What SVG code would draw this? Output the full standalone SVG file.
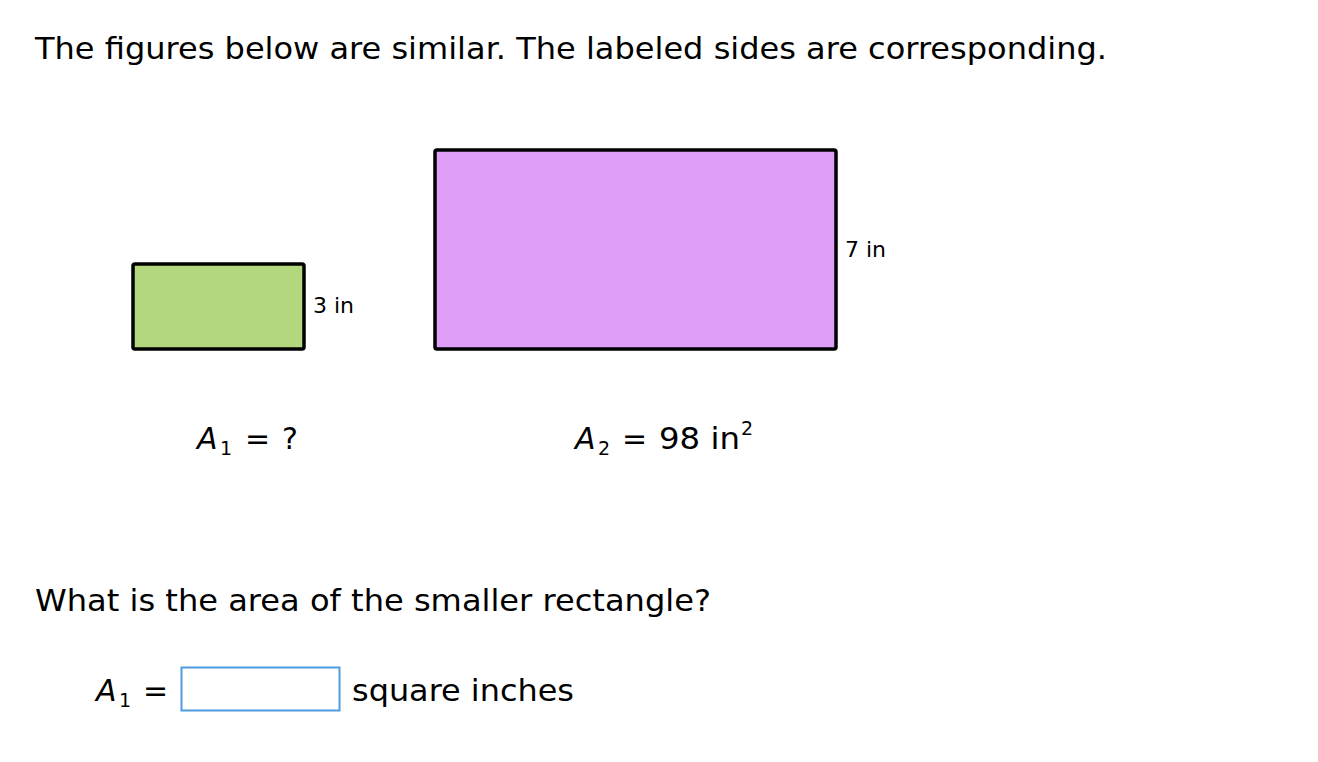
<svg xmlns="http://www.w3.org/2000/svg" width="1318" height="762" viewBox="0 0 1318 762">
<style>
.t{font-family:"DejaVu Sans","Liberation Sans",sans-serif;fill:#000;}
.big{font-size:30px;}
.small{font-size:22px;}
.it{font-style:italic;}
.sub{font-size:19px;}
.fig{stroke:#000;stroke-width:3.5;stroke-linejoin:round;}
</style>
<rect width="1318" height="762" fill="#fff"/>
<text class="t big" x="35" y="59" textLength="1072" lengthAdjust="spacingAndGlyphs">The figures below are similar. The labeled sides are corresponding.</text>
<g id="small-rect">
<rect class="fig" x="133" y="264" width="171" height="85" rx="2" fill="#b3d77c"/>
<text class="t small" x="313" y="313">3 in</text>
</g>
<g id="large-rect">
<rect class="fig" x="435" y="150" width="401" height="199" rx="2" fill="#df9ff9"/>
<text class="t small" x="845" y="257">7 in</text>
</g>
<g id="label-a1">
<text class="t big it" x="197" y="449">A</text>
<text class="t sub" x="220" y="455">1</text>
<text class="t big" x="245" y="449">=</text>
<text class="t big" x="282" y="449">?</text>
</g>
<g id="label-a2">
<text class="t big it" x="575" y="449">A</text>
<text class="t sub" x="598" y="455">2</text>
<text class="t big" x="622" y="449">=</text>
<text class="t big" x="659" y="449" textLength="81" lengthAdjust="spacingAndGlyphs">98 in</text>
<text class="t sub" x="741" y="435">2</text>
</g>
<text class="t big" x="35" y="611" textLength="676" lengthAdjust="spacingAndGlyphs">What is the area of the smaller rectangle?</text>
<g id="answer">
<text class="t big it" x="96" y="701">A</text>
<text class="t sub" x="119" y="707">1</text>
<text class="t big" x="143" y="701">=</text>
<rect x="181.5" y="667.5" width="158" height="43" fill="#fff" stroke="#4f9be0" stroke-width="2"/>
<text class="t big" x="352" y="701" textLength="222" lengthAdjust="spacingAndGlyphs">square inches</text>
</g>
</svg>
